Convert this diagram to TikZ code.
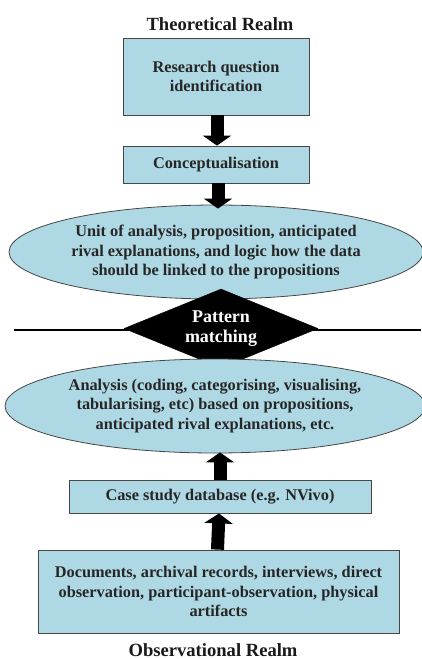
\documentclass[tikz,border=0pt]{standalone}
\usepackage{fontspec}
\setmainfont{Liberation Serif}
\usetikzlibrary{shapes.geometric,arrows.meta}
\definecolor{boxblue}{RGB}{174,216,228}
\definecolor{edgegray}{RGB}{70,70,70}
\tikzset{
  x=1pt, y=-1pt,
  txt/.style={font=\fontsize{16.3}{19.8}\selectfont\bfseries, align=center, text=black!85},
  realm/.style={font=\fontsize{18.6}{20}\selectfont\bfseries, text=black!90},
  stepbox/.style={txt, draw=edgegray, line width=0.8pt, fill=boxblue, inner sep=0pt},
  oval/.style={txt, ellipse, draw=edgegray, line width=0.8pt, fill=boxblue, inner sep=0pt},
  blockarrow/.style={line width=13pt, -{Triangle[width=28pt,length=10pt]}},
}
\begin{document}
\begin{tikzpicture}
\useasboundingbox (0,0) rectangle (421,659);

\node[realm] (top) at (220,24) {Theoretical Realm};

\node[stepbox, minimum width=186pt, minimum height=77pt] (rq) at (216,76.5)
  {Research question\\identification};
\node[stepbox, minimum width=186pt, minimum height=37pt] (cp) at (216,164.5)
  {Conceptualisation};
\node[oval, minimum width=414pt, minimum height=94pt] (unit) at (216,252)
  {Unit of analysis, proposition, anticipated\\rival explanations, and logic how the data\\should be linked to the propositions};

% boundary between the two realms
\coordinate (lineL) at (14,330);
\coordinate (lineR) at (421,330);
\draw[line width=2pt] (lineL) -- (lineR);
\node[diamond, fill=black, draw=black, minimum width=194pt, minimum height=79pt, aspect=2.45, inner sep=0pt,
      txt, font=\fontsize{18}{20}\selectfont\bfseries, text=white] (pm) at (221,328.5) {Pattern\\matching};

\node[oval, minimum width=420pt, minimum height=94pt] (ana) at (215,406)
  {Analysis (coding, categorising, visualising,\\tabularising, etc) based on propositions,\\anticipated rival explanations, etc.};
\node[stepbox, minimum width=302pt, minimum height=33pt] (db) at (220,496.5)
  {Case study database (e.g. NVivo)};
\node[stepbox, minimum width=361pt, minimum height=83pt] (src) at (218.5,591.5)
  {Documents, archival records, interviews, direct\\observation, participant-observation, physical\\artifacts};

\node[realm] (bottom) at (213,650) {Observational Realm};

% flow arrows
\draw[blockarrow] ([xshift=1pt]rq.south) -- ([xshift=1pt]cp.north);
\draw[blockarrow] ([xshift=2pt]cp.south) -- ([xshift=2pt,yshift=-4pt]unit.north);
\draw[blockarrow] ([xshift=0pt]db.north) -- ([xshift=5pt,yshift=1pt]ana.south);
\draw[blockarrow] ([xshift=-1pt]src.north) -- ([xshift=-1pt]db.south);
\end{tikzpicture}
\end{document}
